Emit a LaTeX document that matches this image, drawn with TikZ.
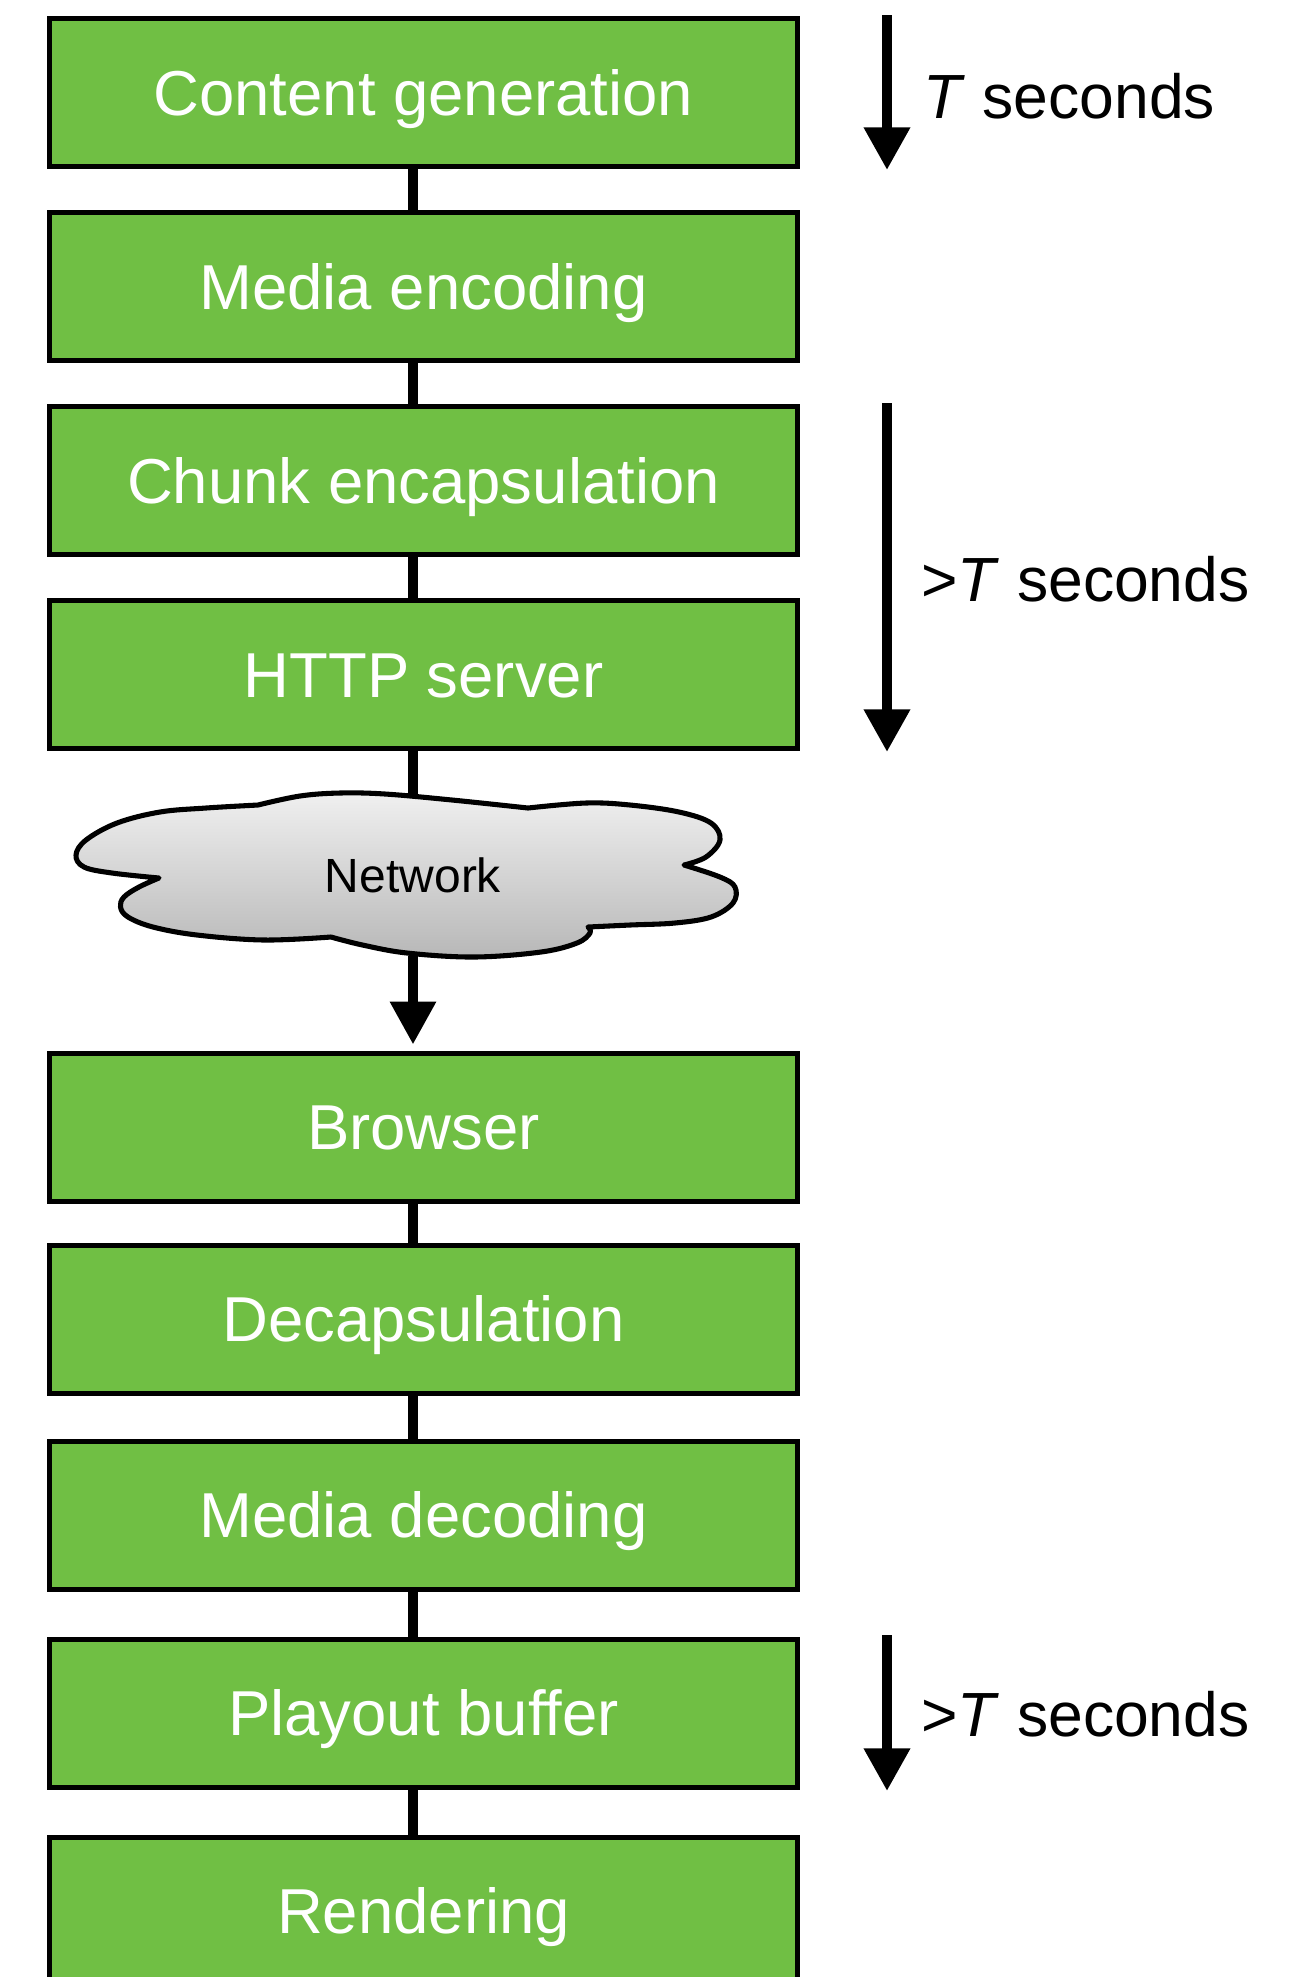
\documentclass[tikz,border=0pt]{standalone}
\usepackage{fontspec}
\setmainfont{Liberation Sans}
\usetikzlibrary{arrows.meta}
\definecolor{stagegreen}{HTML}{70BF44}
\tikzset{
  stage/.style={draw=black, line width=1.875pt, fill=stagegreen,
    minimum width=280.5pt, minimum height=55.5pt, inner sep=0pt,
    text=white, font=\fontsize{23.8}{28}\selectfont,
    text height=17pt, text depth=0pt},
  link/.style={line width=3.4pt},
  headtip/.style={-{Triangle[length=16pt,width=16.5pt]}},
  timearrow/.style={line width=3.75pt, headtip},
  timelabel/.style={anchor=base west, inner sep=0pt,
    font=\fontsize{23.4}{28}\selectfont},
  cloudshape/.style={line width=1.9pt, top color=white!94!black,
    bottom color=white!72!black, line join=round},
}
\begin{document}
\begin{tikzpicture}[x=0.375pt,y=-0.375pt]
\useasboundingbox (0,0) rectangle (1302,1977);
\clip (0,0) rectangle (1302,1977);

% vertical axis through which the stages are chained
\coordinate (spine) at (413,0);

% processing stages
\node[stage] (cg)     at (423.5,92.5)  {Content generation};
\node[stage] (menc)   at (423.5,286.5) {Media encoding};
\node[stage] (chunk)  at (423.5,480.5) {Chunk encapsulation};
\node[stage] (http)   at (423.5,674.5) {HTTP server};
\node[stage] (brow)   at (423.5,1127)  {Browser};
\node[stage] (decap)  at (423.5,1319)  {Decapsulation};
\node[stage] (mdec)   at (423.5,1515)  {Media decoding};
\node[stage] (play)   at (423.5,1713)  {Playout buffer};
\node[stage] (render) at (423.5,1911)  {Rendering};

% chain connectors
\draw[link] (cg.south -| spine)    -- (menc.north -| spine);
\draw[link] (menc.south -| spine)  -- (chunk.north -| spine);
\draw[link] (chunk.south -| spine) -- (http.north -| spine);
\draw[link] (brow.south -| spine)  -- (decap.north -| spine);
\draw[link] (decap.south -| spine) -- (mdec.north -| spine);
\draw[link] (mdec.south -| spine)  -- (play.north -| spine);
\draw[link] (play.south -| spine)  -- (render.north -| spine);

% network cloud
\node[minimum width=200pt, minimum height=60pt, inner sep=0pt,
      font=\fontsize{18}{22}\selectfont] (net) at (413,875) {};
\draw[link] (http.south -| spine) -- (net.north);
\draw[link, headtip, shorten >=2.3pt] (net.south) -- (brow.north -| spine);
\draw[cloudshape]
  plot[smooth, tension=0.6] coordinates {(258,805) (206,808) (160,812) (117,823) (86,840) (76,855) (84,867) (112,873) (159,878)}
  -- plot[smooth, tension=0.6] coordinates {(159,878) (139,887) (124,897) (120.5,907) (128,917) (153,927) (197,935) (264,940) (331,937)}
  -- plot[smooth, tension=0.6] coordinates {(331,937) (362.5,945) (407,953) (474,957) (541,952) (577,943) (590,933) (588,927)}
  -- plot[smooth, tension=0.6] coordinates {(588,927) (630,925) (675,923) (711,917) (733,903) (735,887) (720,877) (684,865)}
  -- plot[smooth, tension=0.6] coordinates {(684,865) (706,857) (720,840) (711,823) (679,812) (630,805) (586,803) (528,808)}
  -- plot[smooth, tension=0.6] coordinates {(528,808) (452,800) (385,794) (340,793) (300,796) (258,805)}
  -- cycle;
\node[font=\fontsize{18}{22}\selectfont, inner sep=0pt] (netlabel) at (net.center) {Network};

% timing arrows
\coordinate (t1a) at (887,15);
\coordinate (t1b) at (887,170);
\coordinate (t2a) at (887,403);
\coordinate (t2b) at (887,752);
\coordinate (t3a) at (887,1635);
\coordinate (t3b) at (887,1791);
\draw[timearrow] (t1a) -- (t1b);
\draw[timearrow] (t2a) -- (t2b);
\draw[timearrow] (t3a) -- (t3b);
\node[timelabel] (l1) at (923,118)  {\textit{T} seconds};
\node[timelabel] (l2) at (921,601)  {>\textit{T} seconds};
\node[timelabel] (l3) at (921,1736) {>\textit{T} seconds};
\end{tikzpicture}
\end{document}
